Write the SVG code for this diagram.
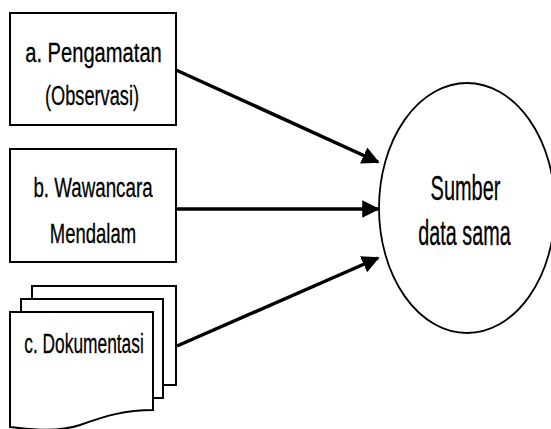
<svg xmlns="http://www.w3.org/2000/svg" width="551" height="429" viewBox="0 0 551 429">
<defs>
<style>
.box{fill:#fff;stroke:#000;stroke-width:2}
.ell{fill:#fff;stroke:#000;stroke-width:1.8}
.t{font-family:"Liberation Sans",Arial,sans-serif;font-size:28px;fill:#000;stroke:#000;stroke-width:0.3;text-anchor:middle}
.tb{font-size:35px}
.c{stroke:#000;stroke-width:3.5;fill:none}
</style>
<marker id="ah" viewBox="0 0 10 10" refX="9" refY="5" markerWidth="5" markerHeight="5" markerUnits="strokeWidth" orient="auto">
<path d="M0,0 L10,5 L0,10 Z" fill="#000"/>
</marker>
</defs>
<rect width="551" height="429" fill="#fff"/>
<g id="connectors">
<line class="c" x1="176" y1="70" x2="378" y2="162" marker-end="url(#ah)"/>
<line class="c" x1="176" y1="209" x2="378" y2="209" marker-end="url(#ah)"/>
<line class="c" x1="177" y1="346" x2="378" y2="258" marker-end="url(#ah)"/>
</g>
<g id="node-a">
<rect class="box" x="10" y="13" width="166" height="112"/>
<text class="t" transform="translate(93.5,62) scale(0.72,1)">a. Pengamatan</text>
<text class="t" transform="translate(92,105) scale(0.65,1)">(Observasi)</text>
</g>
<g id="node-b">
<rect class="box" x="10" y="149" width="166" height="113"/>
<text class="t" transform="translate(93,197) scale(0.67,1)">b. Wawancara</text>
<text class="t" transform="translate(93,243) scale(0.66,1)">Mendalam</text>
</g>
<g id="node-c">
<path class="box" d="M32,385 V286 H176 V385 Z"/>
<path class="box" d="M21,398 V299 H163 V398 Z"/>
<path class="box" d="M10,427 V312 H153 V410 C125,410 105,416 80,425 C55,433 30,429 10,427 Z"/>
<text class="t" transform="translate(84,353) scale(0.62,1)">c. Dokumentasi</text>
</g>
<g id="node-sumber">
<ellipse class="ell" cx="467" cy="208" rx="88" ry="125"/>
<text class="t tb" transform="translate(465.5,200) scale(0.57,1)">Sumber</text>
<text class="t tb" transform="translate(464.5,245) scale(0.565,1)">data sama</text>
</g>
</svg>
